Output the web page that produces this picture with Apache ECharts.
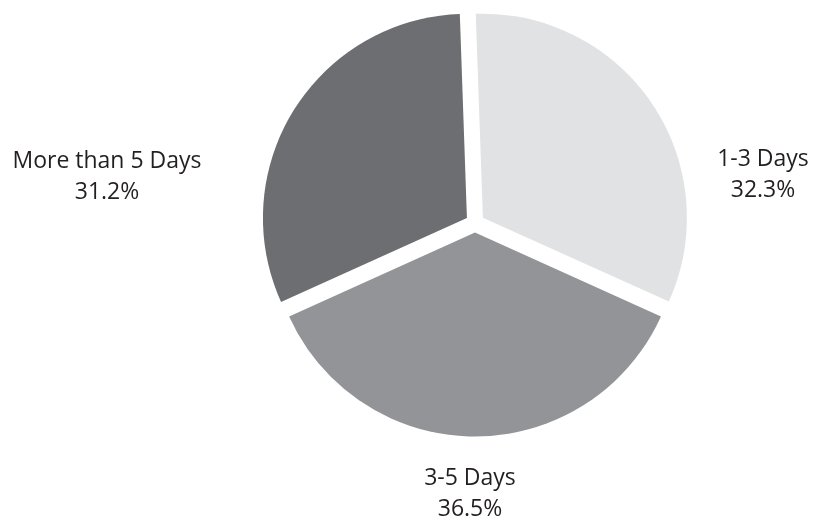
<!DOCTYPE html>
<html>
<head>
<meta charset="utf-8">
<script src="https://cdn.jsdelivr.net/npm/echarts@6/dist/echarts.min.js"></script>
<style>html,body{margin:0;padding:0;background:#fff;}#c{width:816px;height:520px;}</style>
</head>
<body>
<div id="c"></div>
<script>
const categories = ['1-3 Days', '3-5 Days', 'More than 5 Days'];
const values = [32.3, 36.5, 31.2];
const colors = ['#e1e2e4', '#939497', '#6d6e71'];
const labelSpots = [[763, 175], [470, 494], [107, 177]];

const chart = echarts.init(document.getElementById('c'), null, {renderer: 'canvas'});
chart.setOption({
  animation: false,
  graphic: categories.map((c, i) => ({
    type: 'text',
    x: labelSpots[i][0],
    y: labelSpots[i][1],
    style: {
      text: c + '\n' + values[i].toFixed(1) + '%',
      fontFamily: 'Open Sans',
      fontSize: 23,
      lineHeight: 31,
      fill: '#231f20',
      align: 'center',
      verticalAlign: 'middle'
    }
  })),
  series: [{
    type: 'pie',
    center: [475, 223],
    radius: [0, 204],
    startAngle: 92,
    clockwise: true,
    selectedMode: 'multiple',
    selectedOffset: 9.5,
    emphasis: {disabled: true, scale: false},
    select: {itemStyle: {borderWidth: 0}},
    itemStyle: {borderWidth: 0},
    labelLine: {show: false},
    label: {show: false},
    data: categories.map((c, i) => ({
      name: c,
      value: values[i],
      selected: true,
      itemStyle: {color: colors[i]}
    }))
  }]
});
</script>
</body>
</html>
